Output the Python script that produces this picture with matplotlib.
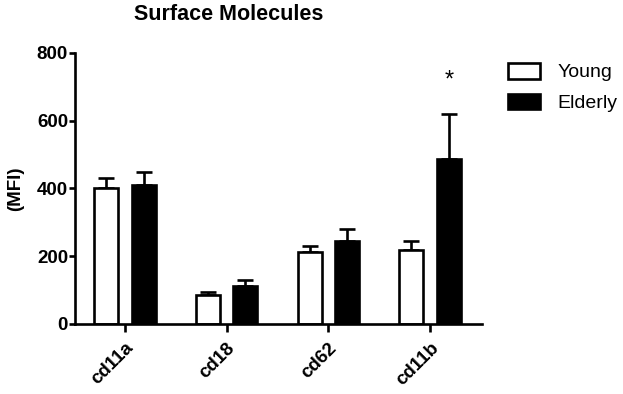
import numpy as np
import matplotlib
matplotlib.use("Agg")
import matplotlib.pyplot as plt

plt.rcParams["font.family"] = ["Liberation Sans", "DejaVu Sans"]

categories = ["cd11a", "cd18", "cd62", "cd11b"]
young = [402, 86, 212, 218]
young_err = [30, 7, 18, 28]
elderly = [410, 112, 246, 488]
elderly_err = [40, 18, 34, 132]

fig = plt.figure(figsize=(6.23, 3.94), dpi=100)
ax = fig.add_axes([0.1204, 0.1777, 0.6533, 0.6878])

x = np.arange(len(categories))
w = 0.235
off = 0.185
lw = 1.9

ax.bar(x - off, young, w, color="white", edgecolor="black", linewidth=lw,
       label="Young", zorder=2)
ax.bar(x + off, elderly, w, color="black", edgecolor="black", linewidth=lw,
       label="Elderly", zorder=2)
ax.errorbar(x - off, young, yerr=[np.zeros(4), young_err], fmt="none",
            ecolor="black", elinewidth=lw, capsize=5.5, capthick=lw, zorder=1)
ax.errorbar(x + off, elderly, yerr=[np.zeros(4), elderly_err], fmt="none",
            ecolor="black", elinewidth=lw, capsize=5.5, capthick=lw, zorder=1)

ax.text(3 + off, 685, "*", ha="center", va="bottom", fontsize=17)

ax.set_xlim(-0.49, 3.51)
ax.set_ylim(0, 800)
ax.set_yticks([0, 200, 400, 600, 800])
ax.set_xticks(x)
ax.set_xticklabels(categories, rotation=45, ha="right", rotation_mode="anchor",
                   fontweight="bold", fontsize=13.5)
for lab in ax.get_yticklabels():
    lab.set_fontweight("bold")
    lab.set_fontsize(13.5)

for s in ["top", "right"]:
    ax.spines[s].set_visible(False)
for s in ["left", "bottom"]:
    ax.spines[s].set_linewidth(lw)
ax.tick_params(axis="y", width=lw, length=4, pad=1)
ax.tick_params(axis="x", width=lw, length=6, pad=5)

ax.set_ylabel("(MFI)", fontweight="bold", fontsize=13.5, labelpad=9)

fig.text(229 / 623, 1 - 14 / 394, "Surface Molecules", ha="center", va="center",
         fontweight="bold", fontsize=15.5)

fig.legend(loc="upper left", bbox_to_anchor=(508 / 623, 1 - 63 / 394),
           frameon=False, fontsize=14, handlelength=1.65, handleheight=0.85,
           handletextpad=0.9, labelspacing=0.62, borderpad=0, borderaxespad=0)

fig.savefig("out.png", dpi=100)
